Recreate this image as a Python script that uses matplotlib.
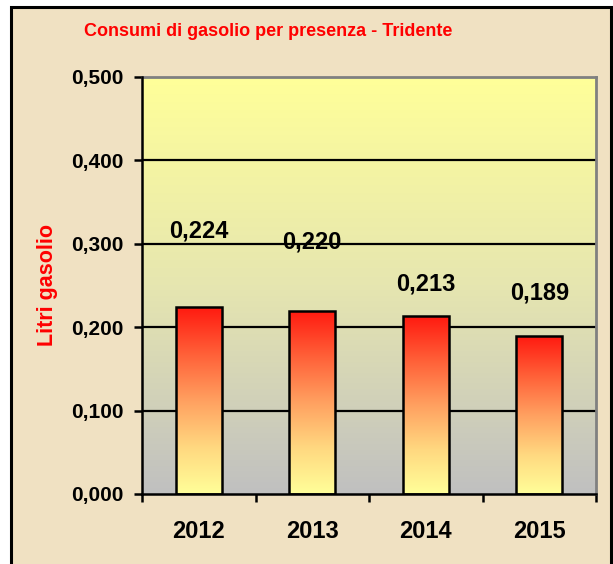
import numpy as np
import matplotlib
matplotlib.use("Agg")
import matplotlib.pyplot as plt
from matplotlib.colors import LinearSegmentedColormap
from matplotlib.patches import Rectangle

years = ["2012", "2013", "2014", "2015"]
values = [0.224, 0.220, 0.213, 0.189]
labels = ["0,224", "0,220", "0,213", "0,189"]
label_offsets_pt = [55, 49, 23, 31]
yticks = [0.0, 0.1, 0.2, 0.3, 0.4, 0.5]
ytick_labels = ["0,000", "0,100", "0,200", "0,300", "0,400", "0,500"]

plt.rcParams['font.family'] = ['Liberation Sans', 'DejaVu Sans']
plt.rcParams['font.weight'] = 'bold'

fig = plt.figure(figsize=(6.13, 5.64), dpi=100)
fig.patch.set_facecolor('white')

# parchment panel with black border
panel = Rectangle((11/613, -0.01), 600/613, 1.0 - 7/564 + 0.01, transform=fig.transFigure,
                  facecolor='#F0E1C2', edgecolor='black', linewidth=2.2, zorder=-5)
fig.patches.append(panel)

ax = fig.add_axes([142/613, 70/564, 454/613, 417/564])
ax.set_zorder(2)
ax.set_facecolor('none')

# plot-area gradient: light yellow top -> grey bottom
bg_cmap = LinearSegmentedColormap.from_list('bg', ['#C0C0C0', '#E6E6B0', '#FFFF99'])
grad = np.linspace(0, 1, 256).reshape(-1, 1)
ax.imshow(grad, cmap=bg_cmap, origin='lower', extent=[0, 1, 0, 1], transform=ax.transAxes,
          aspect='auto', zorder=0)

x = np.arange(len(years))
ax.set_xlim(-0.5, len(years) - 0.5)
ax.set_ylim(0, 0.5)

for yv in yticks[1:-1]:
    ax.axhline(yv, color='black', linewidth=1.6, zorder=1)

bars = ax.bar(x, values, width=0.405, facecolor='none', edgecolor='black', linewidth=1.8, zorder=3)
bar_cmap = LinearSegmentedColormap.from_list('bar', ['#FFFF99', '#FFD880', '#FFA060', '#FF6038', '#FF1A10'])
for b in bars:
    x0, y0 = b.get_x(), b.get_y()
    im = ax.imshow(grad, cmap=bar_cmap, origin='lower', aspect='auto',
                   extent=[x0, x0 + b.get_width(), y0, y0 + b.get_height()], zorder=2)
    im.set_clip_path(b)

for xi, v, lab, off in zip(x, values, labels, label_offsets_pt):
    ax.annotate(lab, (xi, v), xytext=(0, off), textcoords='offset points',
                ha='center', va='center', fontsize=17, fontweight='bold', color='black', zorder=5)

# spines
for s in ['top', 'right']:
    ax.spines[s].set_color('#808080')
    ax.spines[s].set_linewidth(2)
for s in ['left', 'bottom']:
    ax.spines[s].set_color('black')
    ax.spines[s].set_linewidth(1.8)
    ax.spines[s].set_zorder(6)

ax.set_yticks(yticks)
ax.set_yticklabels(ytick_labels, fontsize=15, fontweight='bold')
ax.tick_params(axis='y', direction='out', length=6, width=1.8, pad=7)

ax.set_xticks(x)
ax.set_xticklabels(years, fontsize=17, fontweight='bold')
ax.set_xticks(np.arange(-0.5, len(years)), minor=True)
ax.tick_params(axis='x', which='major', length=0, pad=19)
ax.tick_params(axis='x', which='minor', direction='out', length=6, width=1.8)

fig.text(268/613, 1 - 32/564, "Consumi di gasolio per presenza - Tridente", color='#FF0000',
         fontsize=13, fontweight='bold', ha='center', va='center')
fig.text(47/613, 1 - 285/564, "Litri gasolio", color='#FF0000', fontsize=15.5,
         fontweight='bold', rotation=90, ha='center', va='center')

fig.savefig('out.png', dpi=100, facecolor=fig.get_facecolor())
